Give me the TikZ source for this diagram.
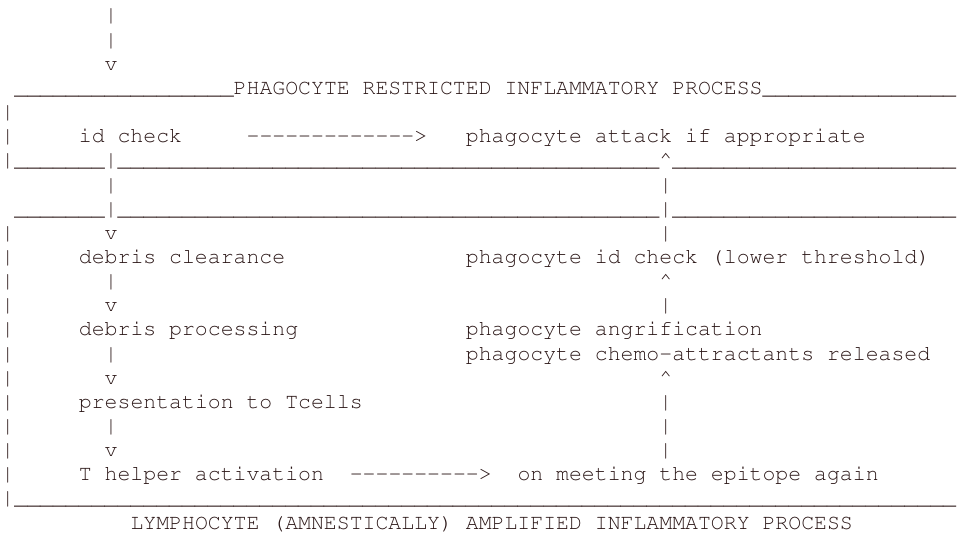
\documentclass[tikz,border=0pt]{standalone}
\usepackage[T1,TU]{fontenc}
\usepackage{xcolor}
\definecolor{inkbrown}{RGB}{42,22,22}
\newcommand\unders[1]{\foreach\k in {1,...,#1}{\_}}
\newcommand\dashrun[1]{\foreach\k in {1,...,#1}{-}}
\newcommand\asciifont{\fontencoding{T1}\fontfamily{pcr}\fontsize{21.5}{24}\selectfont}

\begin{document}
\begin{tikzpicture}[x=12.9pt,y=-24.15pt,ascii/.style={anchor=base west,inner sep=0pt,outer sep=0pt,xshift=1.5pt,yshift=2.2pt,text=inkbrown,font=\asciifont}]
    \useasboundingbox (0pt,0pt) rectangle (962pt,-533pt);

    \node[ascii] (in1) at (8,1) {|};
    \node[ascii] (in2) at (8,2) {|};
    \node[ascii] (inv) at (8,3) {v};
    \node[ascii] (ul4l) at (1,4) {\unders{17}};
    \node[ascii] (phago) at (18,4) {PHAGOCYTE RESTRICTED INFLAMMATORY PROCESS};
    \node[ascii] (ul4r) at (59,4) {\unders{15}};

    \node[ascii] (b5) at (0,5) {|};
    \node[ascii] (b6) at (0,6) {|};
    \node[ascii] (idcheck) at (6,6) {id check};
    \node[ascii] (arrtop) at (19,6) {\dashrun{13}>};
    \node[ascii] (attack) at (36,6) {phagocyte attack if appropriate};
    \node[ascii] (b7) at (0,7) {|};
    \node[ascii] (ul7a) at (1,7) {\unders{7}};
    \node[ascii] (l7) at (8,7) {|};
    \node[ascii] (ul7b) at (9,7) {\unders{42}};
    \node[ascii] (r7) at (51,7) {\textasciicircum};
    \node[ascii] (ul7c) at (52,7) {\unders{22}};

    \node[ascii] (l8) at (8,8) {|};
    \node[ascii] (r8) at (51,8) {|};
    \node[ascii] (ul9a) at (1,9) {\unders{7}};
    \node[ascii] (l9) at (8,9) {|};
    \node[ascii] (ul9b) at (9,9) {\unders{42}};
    \node[ascii] (r9) at (51,9) {|};
    \node[ascii] (ul9c) at (52,9) {\unders{22}};

    \node[ascii] (b10) at (0,10) {|};
    \node[ascii] (l10) at (8,10) {v};
    \node[ascii] (r10) at (51,10) {|};
    \node[ascii] (b11) at (0,11) {|};
    \node[ascii] (clear) at (6,11) {debris clearance};
    \node[ascii] (pidcheck) at (36,11) {phagocyte id check (lower threshold)};
    \node[ascii] (b12) at (0,12) {|};
    \node[ascii] (l12) at (8,12) {|};
    \node[ascii] (r12) at (51,12) {\textasciicircum};
    \node[ascii] (b13) at (0,13) {|};
    \node[ascii] (l13) at (8,13) {v};
    \node[ascii] (r13) at (51,13) {|};
    \node[ascii] (b14) at (0,14) {|};
    \node[ascii] (process) at (6,14) {debris processing};
    \node[ascii] (angri) at (36,14) {phagocyte angrification};
    \node[ascii] (b15) at (0,15) {|};
    \node[ascii] (l15) at (8,15) {|};
    \node[ascii] (chemo) at (36,15) {phagocyte chemo-attractants released};
    \node[ascii] (b16) at (0,16) {|};
    \node[ascii] (l16) at (8,16) {v};
    \node[ascii] (r16) at (51,16) {\textasciicircum};
    \node[ascii] (b17) at (0,17) {|};
    \node[ascii] (present) at (6,17) {presentation to Tcells};
    \node[ascii] (r17) at (51,17) {|};
    \node[ascii] (b18) at (0,18) {|};
    \node[ascii] (l18) at (8,18) {|};
    \node[ascii] (r18) at (51,18) {|};
    \node[ascii] (b19) at (0,19) {|};
    \node[ascii] (l19) at (8,19) {v};
    \node[ascii] (r19) at (51,19) {|};
    \node[ascii] (b20) at (0,20) {|};
    \node[ascii] (helper) at (6,20) {T helper activation};
    \node[ascii] (arrbot) at (27,20) {\dashrun{10}>};
    \node[ascii] (epitope) at (40,20) {on meeting the epitope again};
    \node[ascii] (b21) at (0,21) {|};
    \node[ascii] (ul21) at (1,21) {\unders{73}};
    \node[ascii] (lympho) at (10,22) {LYMPHOCYTE (AMNESTICALLY) AMPLIFIED INFLAMMATORY PROCESS};
\end{tikzpicture}
\end{document}
